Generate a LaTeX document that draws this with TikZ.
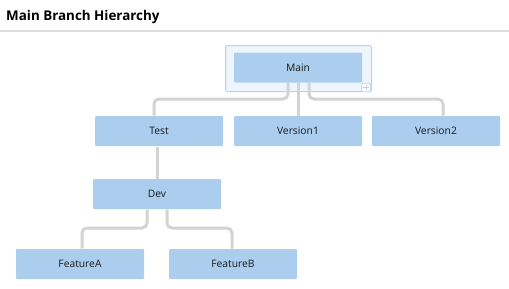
\documentclass[tikz,border=0pt]{standalone}
\usepackage{fontspec}
\setmainfont{Open Sans}
\begin{document}
\begin{tikzpicture}[x=1pt,y=-1pt,
  box/.style={fill=boxblue,draw=none,rounded corners=1pt,minimum width=128pt,minimum height=30pt,inner sep=0pt,font=\fontsize{10.3}{12}\selectfont,text=black!90},
  link/.style={draw=linkgray,line width=3pt,rounded corners=5pt}]
\definecolor{boxblue}{HTML}{ABCEEF}
\definecolor{selfill}{HTML}{EEF5FD}
\definecolor{seldraw}{HTML}{B5D3F2}
\definecolor{linkgray}{HTML}{D3D3D3}
\definecolor{rulegray}{HTML}{DDDDDD}
\useasboundingbox (0,0) rectangle (509,289);
\node[anchor=base west,font=\fontsize{13.4}{15}\bfseries\selectfont,inner sep=0pt] (title) at (6,20.5) {Main Branch Hierarchy};
\draw[rulegray,line width=2pt] (0,31) coordinate (r1) -- (509,31) coordinate (r2);
\node[fill=selfill,draw=seldraw,line width=1pt,rounded corners=2pt,minimum width=146pt,minimum height=46pt,inner sep=0pt] (sel) at (298.5,68.5) {};
\node[box] (main) at (298,67.5) {Main};
\node[draw=seldraw,fill=white,line width=0.8pt,rounded corners=1pt,minimum size=8.5pt,inner sep=0pt] (plus) at (366,87.5) {};
\draw[seldraw,line width=0.8pt] ([xshift=-2.8pt]plus.center) -- ([xshift=2.8pt]plus.center) ([yshift=-2.8pt]plus.center) -- ([yshift=2.8pt]plus.center);
\node[box] (test) at (159,131) {Test};
\node[box] (v1) at (298,131) {Version1};
\node[box] (v2) at (436,131) {Version2};
\node[box] (dev) at (157,194) {Dev};
\node[box] (fa) at (80,264) {FeatureA};
\node[box] (fb) at (233,264) {FeatureB};
\draw[link] (288,82.5) -- (288,99) -- (154,99) -- (154,115.5);
\draw[link] (298,82.5) -- (v1.north);
\draw[link] (309,82.5) -- (309,99) -- (443,99) -- (443,115.5);
\draw[link] (157,146.5) -- (dev.north);
\draw[link] (147,209.5) -- (147,228) -- (82,228) -- (82,248.5);
\draw[link] (167,209.5) -- (167,228) -- (232,228) -- (232,248.5);
\end{tikzpicture}
\end{document}
